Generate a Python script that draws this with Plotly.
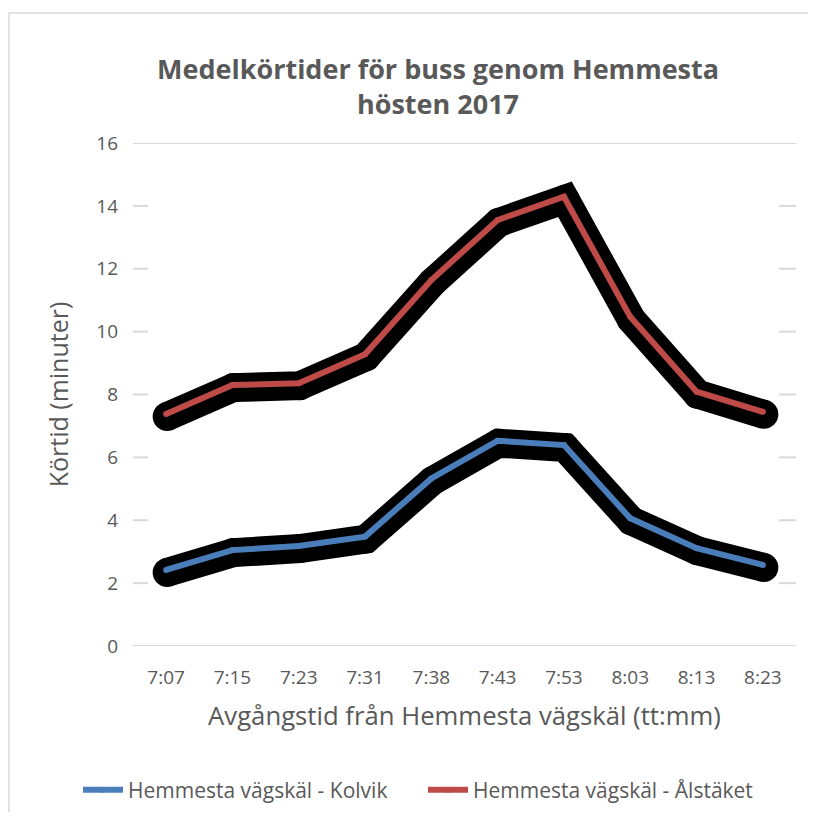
import plotly.graph_objects as go

# ---- data ----
times = ["7:07", "7:15", "7:23", "7:31", "7:38", "7:43", "7:53", "8:03", "8:13", "8:23"]
kolvik = [2.42, 3.05, 3.18, 3.48, 5.33, 6.53, 6.39, 4.06, 3.11, 2.58]
alstaket = [7.38, 8.30, 8.36, 9.28, 11.64, 13.55, 14.29, 10.47, 8.09, 7.45]
series_names = ["Hemmesta vägskäl - Kolvik", "Hemmesta vägskäl - Ålstäket"]
y_ticks = [0, 2, 4, 6, 8, 10, 12, 14, 16]
title_text = "Medelkörtider för buss genom Hemmesta<br>hösten 2017"

# ---- layout geometry (page body has an 8px margin) ----
W, H = 800, 804
ML, MR, MT, MB = 125, 12, 135, 166
PW, PH = W - ML - MR, H - MT - MB
Y_RANGE = [0, 16]
X_RANGE = [-0.5, len(times) - 0.5]
# drop-shadow offset (pixels, right / down)
SDX, SDY = 1, 2.5
dx = SDX * (X_RANGE[1] - X_RANGE[0]) / PW
dy = SDY * (Y_RANGE[1] - Y_RANGE[0]) / PH

BLUE = "#4a7ebb"
RED = "#be4b48"
GREY_TXT = "#595959"
GRID = "#d9d9d9"
FONT = "Open Sans"
SHADOW_W = 29
LINE_W = 6

fig = go.Figure()

# shadows on primary axes (shifted ranges)
for vals in (kolvik, alstaket):
    fig.add_trace(go.Scatter(
        x=times, y=vals, mode="lines+markers", showlegend=False, hoverinfo="skip",
        line=dict(color="black", width=SHADOW_W),
        marker=dict(color="black", size=SHADOW_W, line=dict(width=0)),
        xaxis="x", yaxis="y"))

# coloured lines on overlay axes (true ranges)
for vals, name, col in ((kolvik, series_names[0], BLUE), (alstaket, series_names[1], RED)):
    fig.add_trace(go.Scatter(
        x=times, y=vals, mode="lines+markers", name=name,
        line=dict(color=col, width=LINE_W),
        marker=dict(color=col, size=LINE_W, line=dict(width=0)),
        xaxis="x2", yaxis="y2"))

# gridlines: full at the extremes, short stubs at both edges otherwise
stub_l = 15 / PW
stub_r = 17 / PW
shapes = []
for t in y_ticks:
    if t in (Y_RANGE[0], Y_RANGE[1]):
        segs = [(0, 1)]
    else:
        segs = [(0, stub_l), (1 - stub_r, 1)]
    for a, b in segs:
        shapes.append(dict(type="line", xref="x2 domain", yref="y2", x0=a, x1=b,
                           y0=t, y1=t, line=dict(color=GRID, width=2), layer="below"))
# chart-area border
shapes.append(dict(type="rect", xref="paper", yref="paper",
                   x0=(1 - ML) / PW, x1=1.3, y0=-0.6, y1=(H - MB - 5) / PH,
                   line=dict(color="#d9d9d9", width=1.5), fillcolor="rgba(0,0,0,0)",
                   layer="below"))

annotations = [
    dict(text="<b>%s</b>" % title_text, xref="paper", yref="paper",
         x=(430 - ML) / PW, y=(H - MB - 78) / PH, xanchor="center", yanchor="middle",
         align="center", showarrow=False,
         font=dict(size=27, color=GREY_TXT, family=FONT)),
]

fig.update_layout(
    width=W, height=H,
    margin=dict(l=ML, r=MR, t=MT, b=MB, autoexpand=False),
    paper_bgcolor="white", plot_bgcolor="white",
    font=dict(family=FONT, color=GREY_TXT),
    xaxis=dict(type="category", range=[X_RANGE[0] - dx, X_RANGE[1] - dx], automargin=False,
               showticklabels=False, showgrid=False, zeroline=False, showline=False),
    yaxis=dict(range=[Y_RANGE[0] + dy, Y_RANGE[1] + dy], automargin=False,
               showticklabels=False, showgrid=False, zeroline=False, showline=False),
    xaxis2=dict(type="category", overlaying="x", side="bottom", range=X_RANGE,
                automargin=False, showgrid=False, zeroline=False, showline=False,
                ticks="", ticklabelstandoff=18,
                tickfont=dict(size=19, color=GREY_TXT),
                title=dict(text="Avgångstid från Hemmesta vägskäl (tt:mm)",
                           font=dict(size=25.7, color=GREY_TXT), standoff=18)),
    yaxis2=dict(overlaying="y", side="left", range=Y_RANGE, automargin=False,
                tickvals=y_ticks, showgrid=False,
                zeroline=False, showline=False, ticks="", ticklabelstandoff=14,
                tickfont=dict(size=19, color=GREY_TXT),
                title=dict(text="Körtid (minuter)",
                           font=dict(size=25, color=GREY_TXT), standoff=20)),
    legend=dict(orientation="h", x=(70 - ML) / PW, xanchor="left",
                y=(H - MB - 782) / PH, yanchor="middle",
                font=dict(size=21, color=GREY_TXT), itemwidth=40,
                entrywidth=290, entrywidthmode="pixels",
                bgcolor="rgba(0,0,0,0)"),
    showlegend=True,
    shapes=shapes,
    annotations=annotations,
)

fig.write_html("out.html")
